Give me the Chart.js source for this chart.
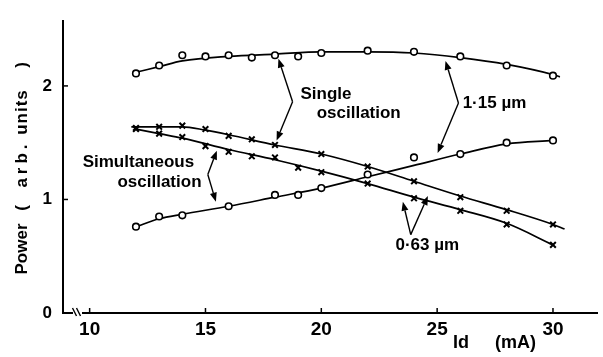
<!DOCTYPE html>
<html><head><meta charset="utf-8">
<script src="https://cdn.jsdelivr.net/npm/chart.js@4"></script>
<style>html,body{margin:0;padding:0;background:#fff}</style>
</head><body>
<canvas id="c" width="603" height="357"></canvas>
<script>
// ---- data ----
const xTicks = [10, 15, 20, 25, 30];
const yTicks = [0, 1, 2];

// 1.15 um, single oscillation (circles, top)
const singleIRX = [12, 13, 14, 15, 16, 17, 18, 19, 20, 22, 24, 26, 28, 30];
const singleIRY = [2.11, 2.18, 2.27, 2.26, 2.27, 2.25, 2.27, 2.26, 2.29, 2.31, 2.30, 2.26, 2.18, 2.09];
const singleIRFitX = [12, 13, 14, 16, 18, 20, 22, 24, 26, 28, 30, 30.3];
const singleIRFitY = [2.12, 2.17, 2.22, 2.26, 2.28, 2.30, 2.30, 2.29, 2.25, 2.19, 2.10, 2.08];

// 1.15 um, simultaneous oscillation (circles, bottom)
const simIRX = [12, 13, 14, 16, 18, 19, 20, 22, 24, 26, 28, 30];
const simIRY = [0.76, 0.85, 0.86, 0.94, 1.04, 1.04, 1.10, 1.22, 1.37, 1.40, 1.50, 1.52];
const simIRFitX = [12, 13, 14, 16, 18, 20, 22, 24, 26, 28, 30];
const simIRFitY = [0.76, 0.83, 0.87, 0.94, 1.02, 1.10, 1.20, 1.30, 1.40, 1.49, 1.52];

// 0.63 um, single oscillation (crosses, upper)
const singleVisX = [12, 13, 14, 15, 16, 17, 18, 20, 22, 24, 26, 28, 30];
const singleVisY = [1.63, 1.64, 1.65, 1.62, 1.56, 1.53, 1.48, 1.40, 1.29, 1.16, 1.02, 0.90, 0.78];
const singleVisFitX = [11.8, 12, 14, 15, 16, 18, 20, 22, 24, 26, 28, 30, 30.5];
const singleVisFitY = [1.64, 1.64, 1.64, 1.61, 1.57, 1.48, 1.40, 1.29, 1.16, 1.03, 0.91, 0.78, 0.74];

// 0.63 um, simultaneous oscillation (crosses, lower)
const simVisX = [12, 13, 14, 15, 16, 17, 18, 19, 20, 22, 24, 26, 28, 30];
const simVisY = [1.62, 1.58, 1.55, 1.47, 1.42, 1.38, 1.37, 1.28, 1.24, 1.14, 1.01, 0.90, 0.78, 0.60];
const simVisFitX = [12, 13, 14, 16, 18, 20, 22, 24, 26, 28, 30];
const simVisFitY = [1.62, 1.58, 1.54, 1.44, 1.35, 1.25, 1.14, 1.02, 0.91, 0.79, 0.60];

// ---- annotations (data coordinates) ----
const FAM = '"Liberation Sans", Arial, sans-serif';
const FONT = 'bold 17px ' + FAM;
const annoTexts = [
  { text: 'Single', x: 19.1, y: 1.93 },
  { text: 'oscillation', x: 19.8, y: 1.76 },
  { text: '1·15 µm', x: 26.1, y: 1.85 },
  { text: 'Simultaneous', x: 9.7, y: 1.33 },
  { text: 'oscillation', x: 11.2, y: 1.15 },
  { text: '0·63 µm', x: 23.2, y: 0.60 }
];
const annoArrows = [
  { from: [18.76, 1.86], to: [18.15, 2.24] },
  { from: [18.76, 1.86], to: [18.07, 1.52] },
  { from: [25.92, 1.85], to: [25.36, 2.22] },
  { from: [25.92, 1.85], to: [25.02, 1.41] },
  { from: [15.1, 1.22], to: [15.49, 1.43] },
  { from: [15.1, 1.22], to: [15.45, 0.98] },
  { from: [23.86, 0.69], to: [23.52, 0.98] },
  { from: [23.86, 0.69], to: [24.6, 1.03] }
];
// y-axis title pieces: text and centre (pixels along the axis)
const yTitleParts = [
  { text: 'Power', c: 249, sp: 0 },
  { text: '(', c: 208, sp: 0 },
  { text: 'arb.', c: 164, sp: 4 },
  { text: 'units', c: 112, sp: 1 },
  { text: ')', c: 65, sp: 0 }
];

const pts = (xs, ys) => xs.map((x, i) => ({ x: x, y: ys[i] }));

function pointSet(xs, ys, style) {
  return {
    data: pts(xs, ys), showLine: false, order: 0,
    pointStyle: style, pointRadius: style === 'circle' ? 3.3 : 4,
    pointBorderWidth: style === 'circle' ? 1.6 : 2,
    pointBackgroundColor: '#fff', pointBorderColor: '#000'
  };
}
function lineSet(xs, ys) {
  return {
    data: pts(xs, ys), showLine: true, order: 1, pointRadius: 0,
    borderColor: '#000', borderWidth: 1.7, tension: 0.4,
    cubicInterpolationMode: 'monotone', fill: false
  };
}

const deco = {
  id: 'deco',
  afterDraw(chart) {
    const ctx = chart.ctx, xs = chart.scales.x, ys = chart.scales.y;
    const X = v => xs.getPixelForValue(v), Y = v => ys.getPixelForValue(v);
    const ca = chart.chartArea;
    ctx.save();
    ctx.strokeStyle = '#000'; ctx.fillStyle = '#000';
    // inward ticks
    ctx.lineWidth = 1.5;
    xTicks.forEach(v => { ctx.beginPath(); ctx.moveTo(X(v), ca.bottom); ctx.lineTo(X(v), ca.bottom - 5); ctx.stroke(); });
    yTicks.forEach(v => { if (v === 0) return; ctx.beginPath(); ctx.moveTo(ca.left, Y(v)); ctx.lineTo(ca.left + 5, Y(v)); ctx.stroke(); });
    // axis break
    const bx = ca.left + 14, by = ca.bottom;
    ctx.fillStyle = '#fff'; ctx.fillRect(bx - 4, by - 3, 9, 5);
    ctx.fillStyle = '#000'; ctx.lineWidth = 1.4;
    [-2.5, 1.5].forEach(d => { ctx.beginPath(); ctx.moveTo(bx + d - 2, by - 5); ctx.lineTo(bx + d + 2, by + 3); ctx.stroke(); });
    // arrows
    ctx.lineWidth = 1.4;
    annoArrows.forEach(a => {
      const x0 = X(a.from[0]), y0 = Y(a.from[1]), x1 = X(a.to[0]), y1 = Y(a.to[1]);
      const ang = Math.atan2(y1 - y0, x1 - x0), L = 9, W = 3.5;
      const bxp = x1 - L * Math.cos(ang), byp = y1 - L * Math.sin(ang);
      ctx.beginPath(); ctx.moveTo(x0, y0); ctx.lineTo(bxp, byp); ctx.stroke();
      ctx.beginPath(); ctx.moveTo(x1, y1);
      ctx.lineTo(bxp + W * Math.sin(ang), byp - W * Math.cos(ang));
      ctx.lineTo(bxp - W * Math.sin(ang), byp + W * Math.cos(ang));
      ctx.closePath(); ctx.fill();
    });
    // texts
    ctx.font = FONT; ctx.textBaseline = 'middle'; ctx.textAlign = 'left';
    annoTexts.forEach(t => ctx.fillText(t.text, X(t.x), Y(t.y)));
    // x axis title
    ctx.font = 'bold 18px ' + FAM;
    ctx.fillText('Id', 453, 343);
    ctx.fillText('(mA)', 495, 343);
    // y axis title
    ctx.save();
    ctx.translate(22, 0);
    ctx.rotate(-Math.PI / 2);
    ctx.font = 'bold 17px ' + FAM; ctx.textAlign = 'center';
    yTitleParts.forEach(p => { ctx.letterSpacing = p.sp + 'px'; ctx.fillText(p.text, -p.c, 0); });
    ctx.letterSpacing = '0px';
    ctx.restore();
    ctx.restore();
  }
};

new Chart(document.getElementById('c'), {
  type: 'scatter',
  data: {
    datasets: [
      pointSet(singleIRX, singleIRY, 'circle'),
      pointSet(simIRX, simIRY, 'circle'),
      pointSet(singleVisX, singleVisY, 'crossRot'),
      pointSet(simVisX, simVisY, 'crossRot'),
      lineSet(singleIRFitX, singleIRFitY),
      lineSet(simIRFitX, simIRFitY),
      lineSet(singleVisFitX, singleVisFitY),
      lineSet(simVisFitX, simVisFitY)
    ]
  },
  options: {
    responsive: false, animation: false,
    layout: { padding: { top: 12, right: 3, left: 0, bottom: 0 } },
    plugins: { legend: { display: false }, tooltip: { enabled: false } },
    scales: {
      x: {
        type: 'linear', min: 8.85, max: 31.9,
        afterBuildTicks: s => { s.ticks = xTicks.map(v => ({ value: v })); },
        afterFit: s => { s.height = 44; },
        border: { color: '#000', width: 2 },
        grid: { drawOnChartArea: false, drawTicks: false },
        ticks: { color: '#000', padding: 5, font: { family: FAM, size: 19, weight: 'bold' } }
      },
      y: {
        type: 'linear', min: 0, max: 2.57,
        afterBuildTicks: s => { s.ticks = yTicks.map(v => ({ value: v })); },
        afterFit: s => { s.width = 63; },
        border: { color: '#000', width: 2 },
        grid: { drawOnChartArea: false, drawTicks: false },
        ticks: { color: '#000', padding: 11, font: { family: FAM, size: 17, weight: 'bold' } }
      }
    }
  },
  plugins: [deco]
});
</script>
</body></html>
